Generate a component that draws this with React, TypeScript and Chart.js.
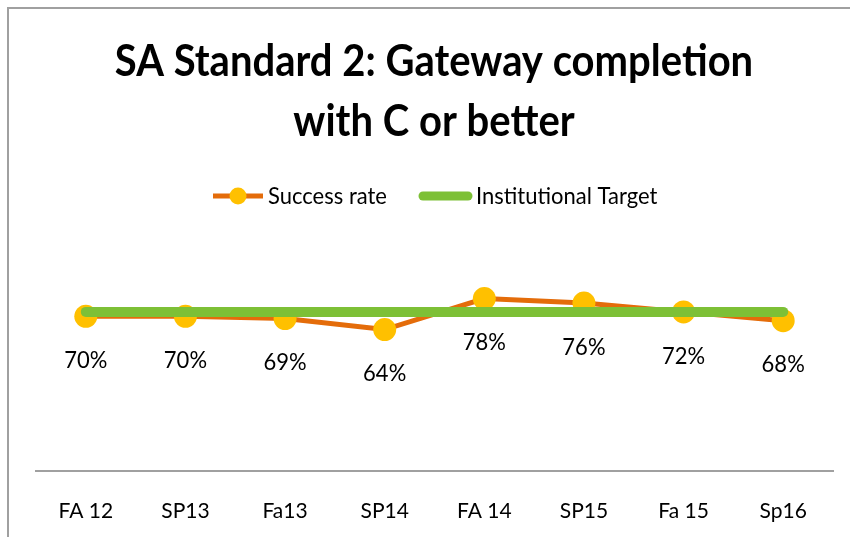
import React, { useEffect, useRef } from "react";
import { Chart, registerables } from "chart.js";

Chart.register(...registerables);

const categories = ["FA 12", "SP13", "Fa13", "SP14", "FA 14", "SP15", "Fa 15", "Sp16"];
const successRate = [70, 70, 69, 64, 78, 76, 72, 68];
const institutionalTarget = [72, 72, 72, 72, 72, 72, 72, 72];
const titleLines = ["SA Standard 2: Gateway completion", "with C or better"];
const seriesNames = ["Success rate", "Institutional Target"];

const FONT = "Lato, 'Open Sans', sans-serif";
const ORANGE = "#E46C0A";
const YELLOW = "#FFC000";
const GREEN = "#7DC036";

function stretchedText(ctx: any, text: string, x: number, y: number, sy: number) {
  ctx.save();
  ctx.translate(x, y);
  ctx.scale(1, sy);
  ctx.fillText(text, 0, 0);
  ctx.restore();
}

const decorPlugin = {
  id: "decor",
  beforeDraw(chart: any) {
    const ctx = chart.ctx;
    ctx.save();
    ctx.fillStyle = "#ffffff";
    ctx.fillRect(0, 0, chart.width, chart.height);
    ctx.strokeStyle = "#a0a0a0";
    ctx.lineWidth = 2;
    ctx.beginPath();
    ctx.moveTo(8, chart.height);
    ctx.lineTo(8, 8);
    ctx.lineTo(chart.width, 8);
    ctx.stroke();
    ctx.restore();
  },
  afterDraw(chart: any) {
    const ctx = chart.ctx;
    ctx.save();
    ctx.fillStyle = "#000000";
    ctx.textAlign = "center";
    ctx.textBaseline = "middle";
    ctx.font = `bold 40px ${FONT}`;
    stretchedText(ctx, titleLines[0], 434, 62, 1.12);
    stretchedText(ctx, titleLines[1], 434, 122, 1.12);

    const ly = 196;
    ctx.lineCap = "butt";
    ctx.strokeStyle = ORANGE;
    ctx.lineWidth = 5;
    ctx.beginPath();
    ctx.moveTo(213, ly);
    ctx.lineTo(263, ly);
    ctx.stroke();
    ctx.fillStyle = YELLOW;
    ctx.beginPath();
    ctx.arc(238, ly, 8.5, 0, Math.PI * 2);
    ctx.fill();

    ctx.strokeStyle = GREEN;
    ctx.lineWidth = 9;
    ctx.lineCap = "round";
    ctx.beginPath();
    ctx.moveTo(423, ly);
    ctx.lineTo(468, ly);
    ctx.stroke();

    ctx.fillStyle = "#000000";
    ctx.textAlign = "left";
    ctx.font = `22px ${FONT}`;
    stretchedText(ctx, seriesNames[0], 268, ly, 1.06);
    stretchedText(ctx, seriesNames[1], 476, ly, 1.06);
    ctx.restore();
  },
  afterDatasetsDraw(chart: any) {
    const ctx = chart.ctx;
    const meta = chart.getDatasetMeta(0);
    ctx.save();
    ctx.fillStyle = "#000000";
    ctx.textAlign = "center";
    ctx.textBaseline = "middle";
    ctx.font = `22px ${FONT}`;
    meta.data.forEach((pt: any, i: number) => {
      stretchedText(ctx, `${successRate[i]}%`, pt.x, pt.y + 44, 1.08);
    });
    ctx.restore();
  },
};

export default function App() {
  const ref = useRef<HTMLCanvasElement>(null);
  useEffect(() => {
    const canvas = ref.current!;
    const chart = new Chart(canvas, {
      type: "line",
      data: {
        labels: categories,
        datasets: [
          {
            label: seriesNames[0],
            data: successRate,
            borderColor: ORANGE,
            borderWidth: 5,
            pointRadius: 11.5,
            pointBackgroundColor: YELLOW,
            pointBorderWidth: 0,
            pointBorderColor: YELLOW,
            tension: 0,
            order: 1,
          },
          {
            label: seriesNames[1],
            data: institutionalTarget,
            borderColor: GREEN,
            borderWidth: 10,
            borderCapStyle: "round",
            pointRadius: 0,
            tension: 0,
            order: 0,
          },
        ],
      },
      options: {
        animation: false,
        responsive: false,
        devicePixelRatio: 1,
        layout: { padding: { left: 36, right: 17, top: 250, bottom: 0 } },
        plugins: {
          legend: { display: false },
          title: { display: false },
          tooltip: { enabled: false },
        },
        scales: {
          x: {
            type: "category",
            offset: true,
            grid: { display: false, drawTicks: false },
            border: { display: true, color: "#a0a0a0", width: 2 },
            ticks: {
              color: "#000000",
              font: { family: FONT, size: 21 },
              padding: 28,
              maxRotation: 0,
              autoSkip: false,
            },
            afterFit: (scale: any) => {
              scale.height = 66;
            },
          },
          y: {
            display: false,
            min: 0,
            max: 100,
          },
        },
      },
      plugins: [decorPlugin],
    });
    return () => chart.destroy();
  }, []);
  return (
    <canvas
      ref={ref}
      width={850}
      height={537}
      style={{ position: "fixed", left: 0, top: 0, width: 850, height: 537 }}
    />
  );
}
